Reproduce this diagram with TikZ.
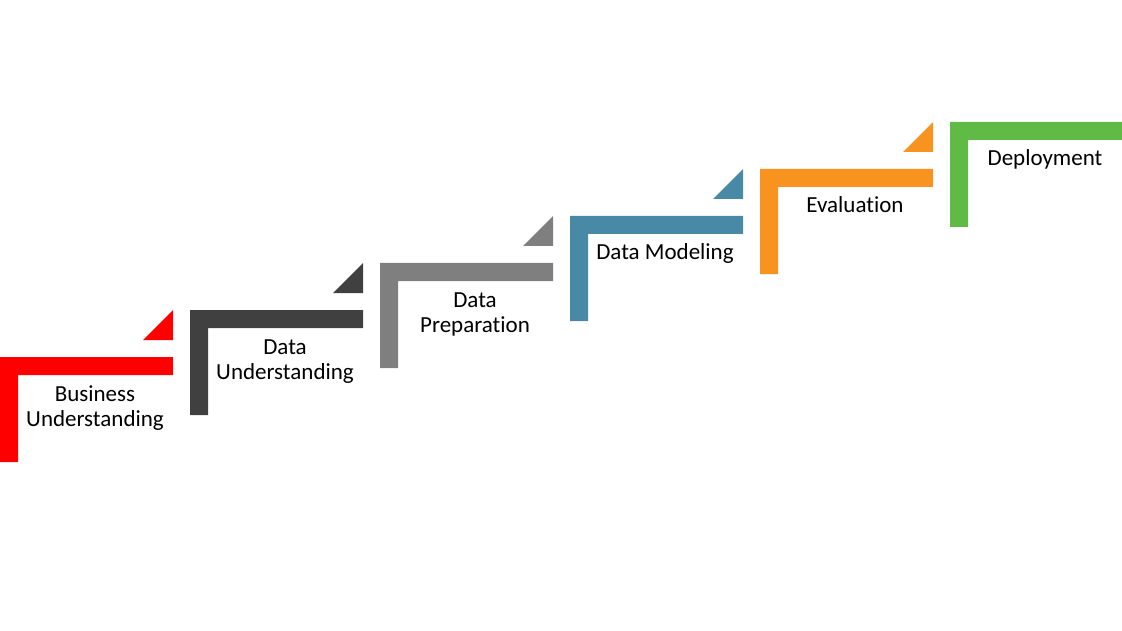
\documentclass[tikz,border=0pt]{standalone}
\usepackage{fontspec}
\setmainfont[Ligatures={NoCommon}]{Carlito}
\definecolor{cRed}{HTML}{FF0000}
\definecolor{cDark}{HTML}{404040}
\definecolor{cGray}{HTML}{7F7F7F}
\definecolor{cTeal}{HTML}{4889A5}
\definecolor{cOrange}{HTML}{F7931E}
\definecolor{cGreen}{HTML}{5FBB46}
\tikzset{
  steplabel/.style={anchor=base, inner sep=0pt, font=\fontsize{23}{25}\selectfont, text=black},
}
\newcommand{\stepshape}[3]{% x0, top, colour
  \fill[#3] (#1,#2) -- ++(173,0) -- ++(0,18) -- ++(-155,0) -- ++(0,87) -- ++(-18,0) -- cycle;
}
\newcommand{\steptri}[3]{%
  \fill[#3] (#1+173,#2-47) -- (#1+173,#2-17) -- (#1+143,#2-17) -- cycle;
}
\begin{document}
\begin{tikzpicture}[x=1pt,y=-1pt]
\useasboundingbox (0,0) rectangle (1122,631);
\stepshape{0}{357}{cRed}\steptri{0}{357}{cRed}
\stepshape{190}{310}{cDark}\steptri{190}{310}{cDark}
\stepshape{380}{263}{cGray}\steptri{380}{263}{cGray}
\stepshape{570}{216}{cTeal}\steptri{570}{216}{cTeal}
\stepshape{760}{169}{cOrange}\steptri{760}{169}{cOrange}
\stepshape{950}{122}{cGreen}
\node[steplabel] (bu) at (95,401.5) {\begin{tabular}[t]{@{}c@{}}Business\\Understanding\end{tabular}};
\node[steplabel] (du) at (285,354.5) {\begin{tabular}[t]{@{}c@{}}Data\\Understanding\end{tabular}};
\node[steplabel] (dp) at (475,307.5) {\begin{tabular}[t]{@{}c@{}}Data\\Preparation\end{tabular}};
\node[steplabel] (dm) at (665,260) {Data Modeling};
\node[steplabel] (ev) at (855,213) {Evaluation};
\node[steplabel] (de) at (1045,166) {Deployment};
\end{tikzpicture}
\end{document}
